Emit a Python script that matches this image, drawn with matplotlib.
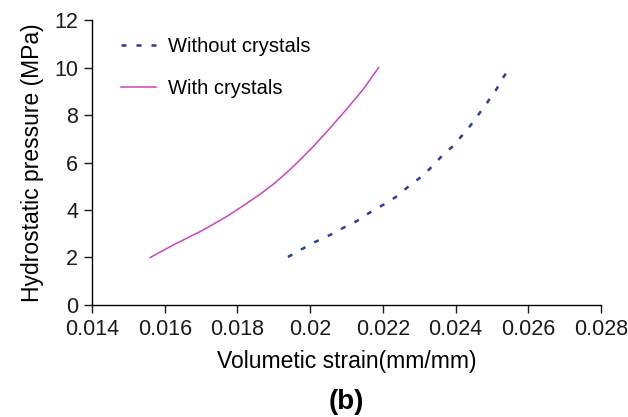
import matplotlib.pyplot as plt

plt.rcParams['font.family'] = ['Liberation Sans', 'DejaVu Sans']

# Hydrostatic loading curves
strain_without = [0.01939, 0.01978, 0.02013, 0.02055, 0.0209, 0.02129, 0.02162,
                  0.0220, 0.02236, 0.02269, 0.02305, 0.02337, 0.02365, 0.02393,
                  0.02417, 0.02442, 0.02464, 0.02486, 0.02511, 0.0253, 0.02549]
pressure_without = [2.02, 2.36, 2.65, 2.95, 3.24, 3.54, 3.87, 4.21, 4.55, 4.97,
                    5.39, 5.85, 6.32, 6.69, 7.12, 7.58, 8.04, 8.5, 9.05, 9.56, 9.98]

strain_with = [0.0156, 0.01624, 0.01706, 0.0177, 0.01816, 0.01862, 0.01903,
               0.01936, 0.01967, 0.02009, 0.0205, 0.021, 0.02146, 0.02188]
pressure_with = [2.0, 2.53, 3.16, 3.72, 4.18, 4.66, 5.14, 5.58, 6.03, 6.68,
                 7.37, 8.24, 9.08, 9.99]

xticks = [0.014, 0.016, 0.018, 0.02, 0.022, 0.024, 0.026, 0.028]
xticklabels = ['0.014', '0.016', '0.018', '0.02', '0.022', '0.024', '0.026', '0.028']
yticks = [0, 2, 4, 6, 8, 10, 12]

fig = plt.figure(figsize=(6.28, 4.17), dpi=100)
ax = fig.add_axes([0.1465, 0.2686, 0.8105, 0.6834])

ax.plot(strain_without, pressure_without, color='#2f3c9c', linewidth=1.8,
        linestyle=(0, (2, 4)), label='Without crystals')
ax.plot(strain_with, pressure_with, color='#cc44bb', linewidth=1.1,
        label='With crystals')

ax.set_xlim(0.014, 0.028)
ax.set_ylim(0, 12)
ax.set_xticks(xticks)
ax.set_xticklabels(xticklabels)
ax.set_yticks(yticks)
ax.tick_params(labelsize=15.5, direction='out', length=6, width=1, colors='#1a1a1a', pad=4)
for side in ['top', 'right']:
    ax.spines[side].set_visible(False)
for side in ['left', 'bottom']:
    ax.spines[side].set_linewidth(1)

ax.set_xlabel('Volumetic strain(mm/mm)', fontsize=16.5, labelpad=7)
ax.set_ylabel('Hydrostatic pressure (MPa)', fontsize=16.5, labelpad=7)

ax.legend(loc='upper left', bbox_to_anchor=(0.022, 1.005), frameon=False,
          fontsize=14.5, handlelength=1.7, labelspacing=1.15, handletextpad=0.6)

fig.text(0.552, 0.02, '(b)', fontsize=20, fontweight='bold', ha='center')

plt.savefig('out.png', dpi=100)
